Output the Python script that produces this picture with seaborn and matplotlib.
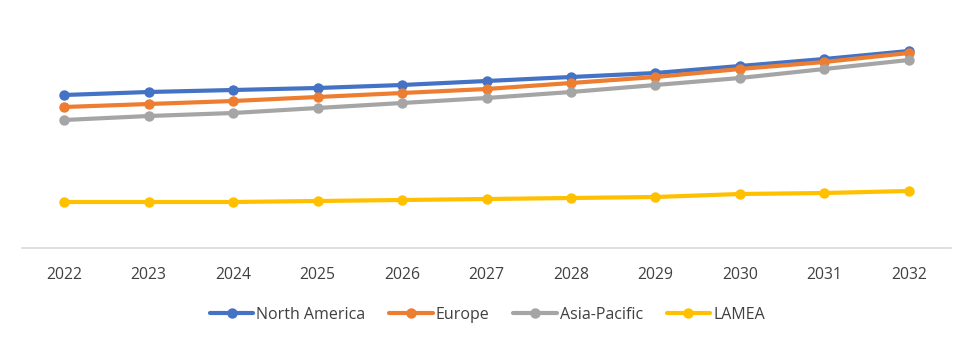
import matplotlib
matplotlib.use("Agg")
import matplotlib.pyplot as plt
import seaborn as sns
import pandas as pd

years = [2022, 2023, 2024, 2025, 2026, 2027, 2028, 2029, 2030, 2031, 2032]
regions = ["North America", "Europe", "Asia-Pacific", "LAMEA"]
north_america = [15.3, 15.6, 15.8, 16.0, 16.3, 16.7, 17.1, 17.5, 18.2, 18.9, 19.7]
europe = [14.1, 14.4, 14.7, 15.1, 15.5, 15.9, 16.5, 17.1, 17.9, 18.6, 19.5]
asia_pacific = [12.8, 13.2, 13.5, 14.0, 14.5, 15.0, 15.6, 16.3, 17.0, 17.9, 18.8]
lamea = [4.6, 4.6, 4.6, 4.7, 4.8, 4.9, 5.0, 5.1, 5.4, 5.5, 5.7]
colors = ["#4472C4", "#ED7D31", "#A5A5A5", "#FFC000"]

series = [north_america, europe, asia_pacific, lamea]
df = pd.concat(
    [pd.DataFrame({"year": years, "value": vals, "region": name})
     for name, vals in zip(regions, series)],
    ignore_index=True,
)

sns.set_theme(style="white")
plt.rcParams["font.family"] = ["Open Sans", "DejaVu Sans"]

fig = plt.figure(figsize=(9.75, 3.45), dpi=100)
ax = fig.add_axes([22 / 975, 1 - 248 / 345, (951 - 22) / 975, (248 - 20) / 345])

sns.lineplot(
    data=df, x="year", y="value", hue="region", hue_order=regions,
    palette=colors, marker="o", markersize=7.5, markeredgewidth=0,
    linewidth=3.0, ax=ax, legend=True,
)

ax.set_xlim(2021.5, 2032.5)
ax.set_ylim(0, 22.8)
ax.set_xticks(years)
ax.set_xticklabels([str(y) for y in years], fontsize=11.3, color="#404040")
ax.tick_params(axis="x", length=0, pad=14)
ax.set_yticks([])
ax.set_xlabel("")
ax.set_ylabel("")
for side in ["left", "right", "top"]:
    ax.spines[side].set_visible(False)
ax.spines["bottom"].set_color("#D9D9D9")
ax.spines["bottom"].set_linewidth(1.2)

handles, labels = ax.get_legend_handles_labels()
ax.legend(
    handles, labels, loc="center", bbox_to_anchor=(0.5, (345 - 315) / 345),
    bbox_transform=fig.transFigure, ncol=4, frameon=False,
    fontsize=11.5, handlelength=2.7, handletextpad=0.2, columnspacing=1.5,
    labelcolor="#404040",
)

fig.savefig("out.png", dpi=100)
